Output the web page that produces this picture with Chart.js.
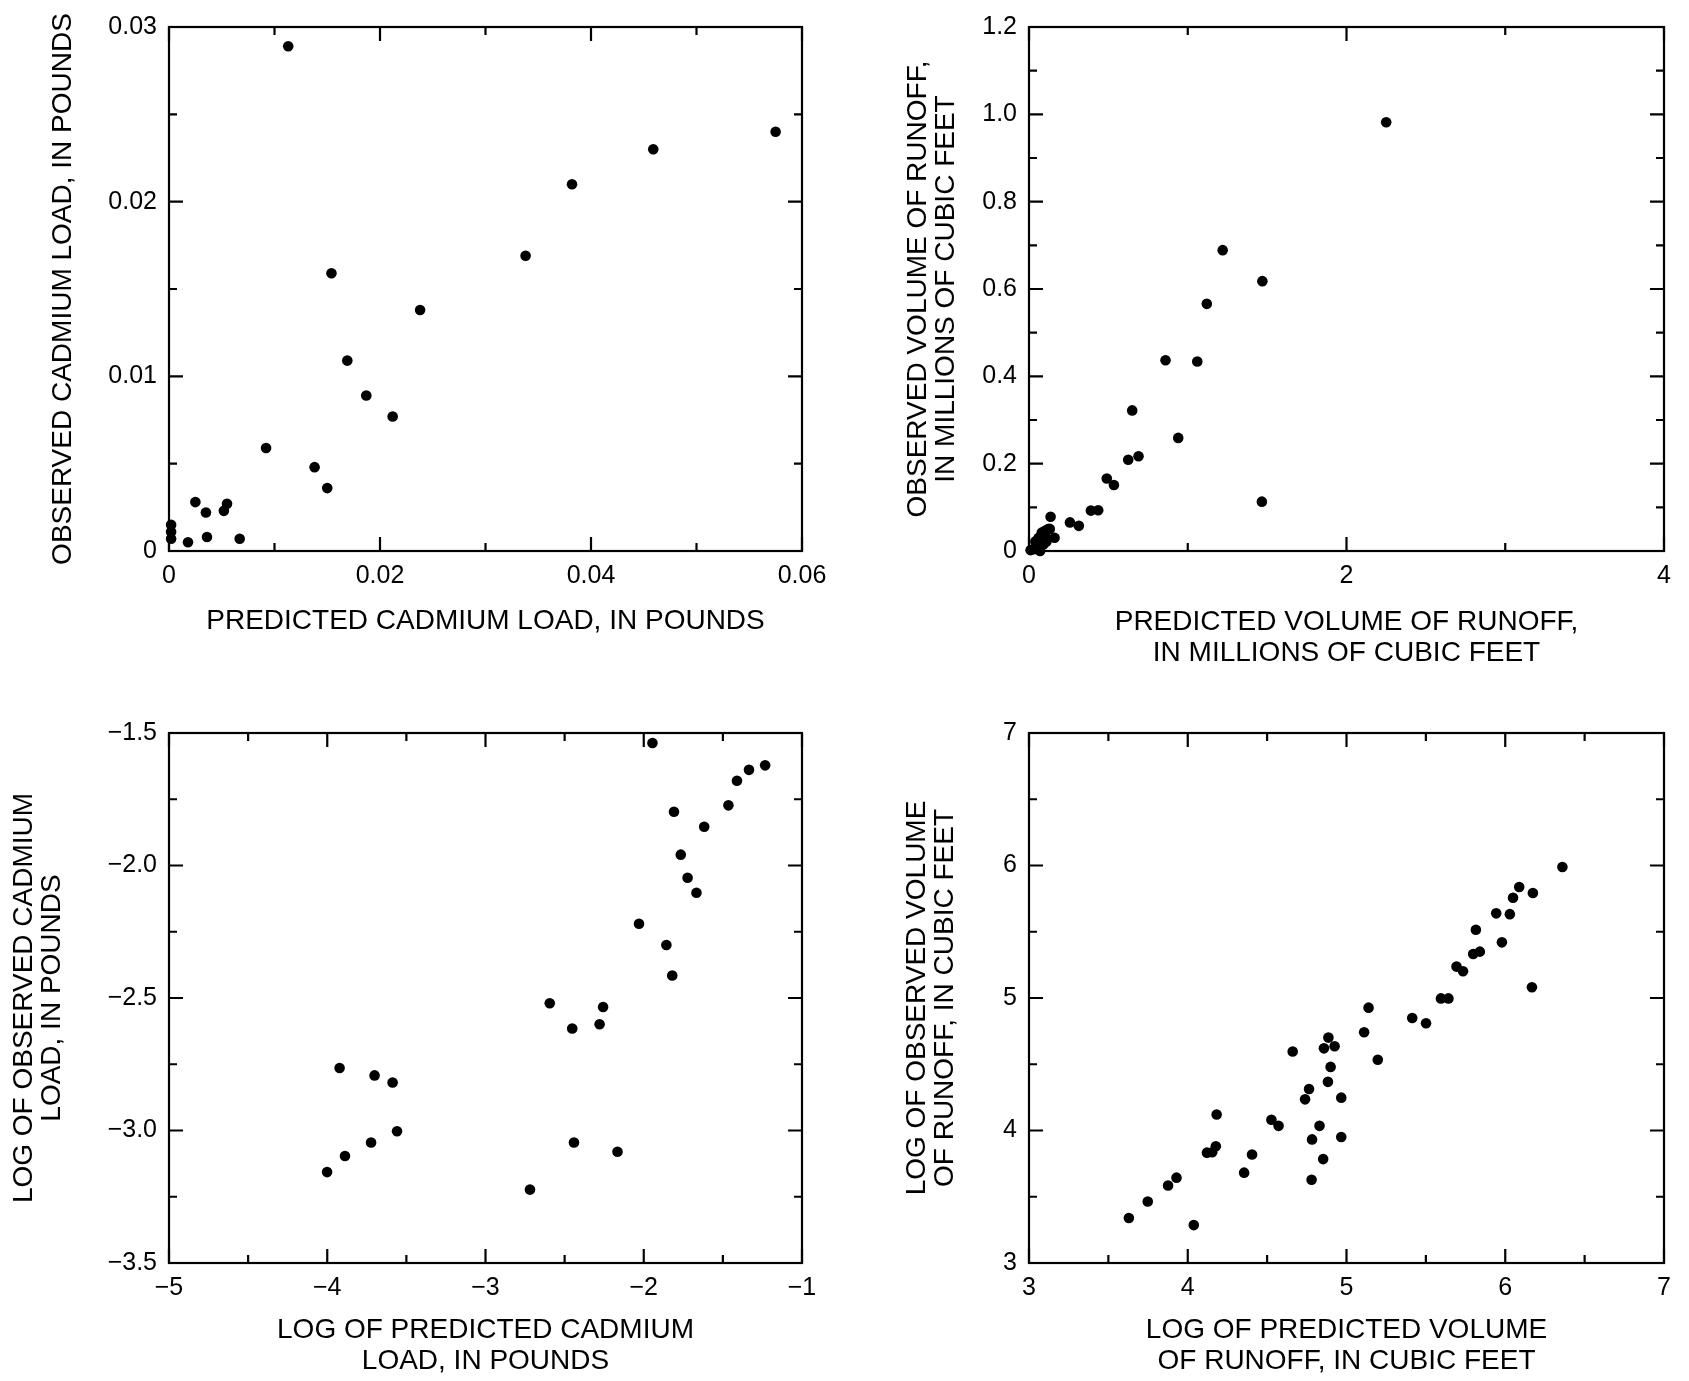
<!DOCTYPE html>
<html>
<head>
<meta charset="utf-8">
<script src="https://cdn.jsdelivr.net/npm/chart.js@4.4.0/dist/chart.umd.min.js"></script>
<style>
  body { margin: 0; background: #fff; }
  #wrap { position: relative; width: 1689px; height: 1381px; }
  canvas { position: absolute; }
</style>
</head>
<body>
<div id="wrap">
  <canvas id="cadLoad" width="860" height="680" style="left:0px;top:0px"></canvas>
  <canvas id="runoffVol" width="829" height="680" style="left:860px;top:0px"></canvas>
  <canvas id="logCad" width="860" height="701" style="left:0px;top:680px"></canvas>
  <canvas id="logRunoff" width="829" height="701" style="left:860px;top:680px"></canvas>
</div>
<script>
// --- cadmium load, pounds (top left)
const cadPredicted = [0.0113, 0.0575, 0.0459, 0.0382, 0.0338, 0.0154, 0.0238, 0.0169, 0.0187, 0.0212, 0.0092, 0.0138,
  0.0150, 0.0025, 0.0035, 0.0052, 0.0055, 0.0036, 0.0018, 0.0067, 0.0002, 0.0002, 0.0002];
const cadObserved = [0.0289, 0.0240, 0.0230, 0.0210, 0.0169, 0.0159, 0.0138, 0.0109, 0.0089, 0.0077, 0.0059, 0.0048,
  0.0036, 0.0028, 0.0022, 0.0023, 0.0027, 0.0008, 0.0005, 0.0007, 0.0015, 0.0011, 0.0007];
const cadXTicks = [0, 0.02, 0.04, 0.06];
const cadXLabels = ['0', '0.02', '0.04', '0.06'];
const cadYTicks = [0, 0.01, 0.02, 0.03];
const cadYLabels = ['0', '0.01', '0.02', '0.03'];

// --- runoff volume, millions of cubic feet (top right)
const runPredicted = [2.25, 1.22, 1.47, 1.12, 0.86, 1.06, 0.65, 0.94, 0.625, 0.69, 0.49, 0.535, 1.467, 0.39, 0.436,
  0.258, 0.314, 0.136, 0.131, 0.161, 0.01, 0.03, 0.05, 0.06, 0.08, 0.1, 0.09, 0.11, 0.12, 0.07, 0.04, 0.1];
const runObserved = [0.982, 0.689, 0.618, 0.566, 0.437, 0.434, 0.322, 0.259, 0.209, 0.217, 0.166, 0.151, 0.113, 0.0925, 0.0934,
  0.0655, 0.0576, 0.0785, 0.0506, 0.0305, 0.002, 0.004, 0.012, 0.03, 0.042, 0.046, 0.015, 0.022, 0.05, 0.0, 0.022, 0.035];
const runXTicks = [0, 2, 4];
const runXLabels = ['0', '2', '4'];
const runYTicks = [0, 0.2, 0.4, 0.6, 0.8, 1.0, 1.2];
const runYLabels = ['0', '0.2', '0.4', '0.6', '0.8', '1.0', '1.2'];

// --- log cadmium load (bottom left)
const logCadPredicted = [-1.945, -1.233, -1.335, -1.411, -1.465, -1.809, -1.618, -1.766, -1.723, -1.667, -2.030, -1.857,
  -1.820, -2.594, -2.257, -2.279, -2.452, -3.922, -3.701, -3.587, -3.559, -3.723, -2.441, -3.888, -2.166, -4.001, -2.719];
const logCadObserved = [-1.538, -1.622, -1.639, -1.680, -1.773, -1.797, -1.854, -1.959, -2.046, -2.103, -2.220, -2.300,
  -2.415, -2.520, -2.534, -2.599, -2.615, -2.764, -2.792, -2.819, -3.003, -3.045, -3.045, -3.096, -3.080, -3.157, -3.223];
const logCadXTicks = [-5, -4, -3, -2, -1];
const logCadXLabels = ['\u22125', '\u22124', '\u22123', '\u22122', '\u22121'];
const logCadYTicks = [-3.5, -3.0, -2.5, -2.0, -1.5];
const logCadYLabels = ['\u22123.5', '\u22123.0', '\u22122.5', '\u22122.0', '\u22121.5'];

// --- log runoff volume (bottom right)
const logRunPredicted = [6.360, 6.088, 6.049, 6.174, 5.943, 6.029, 5.815, 5.979, 5.798, 5.840, 5.693, 5.734, 6.168, 5.595,
  5.642, 5.139, 5.414, 5.501, 5.111, 4.886, 4.925, 4.858, 4.661, 5.197, 4.900, 4.883, 4.764, 4.739, 4.967, 4.182, 4.527,
  4.572, 4.830, 4.783, 4.967, 4.177, 4.121, 4.154, 4.405, 4.853, 4.355, 4.780, 3.929, 3.876, 3.748, 3.629, 4.038];
const logRunObserved = [5.989, 5.838, 5.757, 5.792, 5.639, 5.633, 5.515, 5.420, 5.332, 5.350, 5.237, 5.202, 5.081, 4.997,
  4.997, 4.927, 4.849, 4.809, 4.741, 4.701, 4.636, 4.620, 4.596, 4.534, 4.480, 4.367, 4.313, 4.235, 4.248, 4.121, 4.081,
  4.035, 4.035, 3.933, 3.951, 3.881, 3.833, 3.836, 3.819, 3.784, 3.682, 3.628, 3.644, 3.585, 3.464, 3.340, 3.286];
const logRunXTicks = [3, 4, 5, 6, 7];
const logRunXLabels = ['3', '4', '5', '6', '7'];
const logRunYTicks = [3, 4, 5, 6, 7];
const logRunYLabels = ['3', '4', '5', '6', '7'];

const FONT = '"Liberation Sans", Arial, Helvetica, sans-serif';

function findMajor(list, v) {
  return list.findIndex(t => Math.abs(t - v) < 1e-9);
}

// frame plus inward tick marks on all four sides
function frameTicks(xMajors, yMajors) {
  return {
    id: 'frameTicks',
    beforeDatasetsDraw(chart) {
      const { ctx, chartArea: a, scales } = chart;
      ctx.save();
      ctx.strokeStyle = '#000';
      ctx.lineWidth = 2.2;
      ctx.strokeRect(a.left, a.top, a.right - a.left, a.bottom - a.top);
      ctx.beginPath();
      scales.x.ticks.forEach(t => {
        const px = scales.x.getPixelForValue(t.value);
        const len = findMajor(xMajors, t.value) >= 0 ? 14 : 8;
        ctx.moveTo(px, a.bottom); ctx.lineTo(px, a.bottom - len);
        ctx.moveTo(px, a.top); ctx.lineTo(px, a.top + len);
      });
      scales.y.ticks.forEach(t => {
        const py = scales.y.getPixelForValue(t.value);
        const len = findMajor(yMajors, t.value) >= 0 ? 14 : 8;
        ctx.moveTo(a.left, py); ctx.lineTo(a.left + len, py);
        ctx.moveTo(a.right, py); ctx.lineTo(a.right - len, py);
      });
      ctx.stroke();
      ctx.restore();
    }
  };
}

function makeChart(id, c) {
  const points = c.xs.map((x, i) => ({ x: x, y: c.ys[i] }));
  return new Chart(document.getElementById(id), {
    type: 'scatter',
    data: {
      datasets: [{
        data: points,
        pointRadius: 5.3,
        pointHoverRadius: 5.3,
        backgroundColor: '#000',
        borderWidth: 0,
        clip: false
      }]
    },
    options: {
      responsive: false,
      animation: false,
      events: [],
      layout: { padding: { left: 0, top: c.top, right: c.right, bottom: 0 } },
      plugins: { legend: { display: false }, tooltip: { enabled: false } },
      scales: {
        x: {
          type: 'linear',
          min: c.x.min, max: c.x.max,
          afterFit: s => { s.height = c.x.height; },
          grid: { display: false, drawTicks: false },
          border: { display: false },
          ticks: {
            stepSize: c.x.step, autoSkip: false, maxRotation: 0, padding: 10,
            color: '#000', font: { family: FONT, size: 25 },
            callback: v => { const i = findMajor(c.x.ticks, v); return i >= 0 ? c.x.labels[i] : ''; }
          },
          title: {
            display: true, text: c.x.title, color: '#000',
            font: { family: FONT, size: 28, lineHeight: '31px' },
            padding: { top: 0, bottom: c.x.titlePad }
          }
        },
        y: {
          type: 'linear',
          min: c.y.min, max: c.y.max,
          afterFit: s => { s.width = 169; },
          grid: { display: false, drawTicks: false },
          border: { display: false },
          ticks: {
            stepSize: c.y.step, autoSkip: false, padding: 12,
            color: '#000', font: { family: FONT, size: 25 },
            callback: v => { const i = findMajor(c.y.ticks, v); return i >= 0 ? c.y.labels[i] : ''; }
          },
          title: {
            display: true, text: c.y.title, color: '#000',
            font: { family: FONT, size: 28, lineHeight: '28px' },
            padding: { top: c.y.titlePad, bottom: 0 }
          }
        }
      }
    },
    plugins: [frameTicks(c.x.ticks, c.y.ticks)]
  });
}

makeChart('cadLoad', {
  xs: cadPredicted, ys: cadObserved, top: 25, right: 58,
  x: { min: 0, max: 0.06, step: 0.01, ticks: cadXTicks, labels: cadXLabels, height: 129, titlePad: 43,
       title: 'PREDICTED CADMIUM LOAD, IN POUNDS' },
  y: { min: 0, max: 0.03, step: 0.005, ticks: cadYTicks, labels: cadYLabels, titlePad: 49,
       title: 'OBSERVED CADMIUM LOAD, IN POUNDS' }
});

makeChart('runoffVol', {
  xs: runPredicted, ys: runObserved, top: 25, right: 25,
  x: { min: 0, max: 4, step: 1, ticks: runXTicks, labels: runXLabels, height: 129, titlePad: 11,
       title: ['PREDICTED VOLUME OF RUNOFF,', 'IN MILLIONS OF CUBIC FEET'] },
  y: { min: 0, max: 1.2, step: 0.1, ticks: runYTicks, labels: runYLabels, titlePad: 44,
       title: ['OBSERVED VOLUME OF RUNOFF,', 'IN MILLIONS OF CUBIC FEET'] }
});

makeChart('logCad', {
  xs: logCadPredicted, ys: logCadObserved, top: 53, right: 58,
  x: { min: -5, max: -1, step: 0.5, ticks: logCadXTicks, labels: logCadXLabels, height: 118, titlePad: 4,
       title: ['LOG OF PREDICTED CADMIUM', 'LOAD, IN POUNDS'] },
  y: { min: -3.5, max: -1.5, step: 0.25, ticks: logCadYTicks, labels: logCadYLabels, titlePad: 10,
       title: ['LOG OF OBSERVED CADMIUM', 'LOAD, IN POUNDS'] }
});

makeChart('logRunoff', {
  xs: logRunPredicted, ys: logRunObserved, top: 53, right: 25,
  x: { min: 3, max: 7, step: 0.5, ticks: logRunXTicks, labels: logRunXLabels, height: 118, titlePad: 4,
       title: ['LOG OF PREDICTED VOLUME', 'OF RUNOFF, IN CUBIC FEET'] },
  y: { min: 3, max: 7, step: 0.5, ticks: logRunYTicks, labels: logRunYLabels, titlePad: 43,
       title: ['LOG OF OBSERVED VOLUME', 'OF RUNOFF, IN CUBIC FEET'] }
});
</script>
</body>
</html>
